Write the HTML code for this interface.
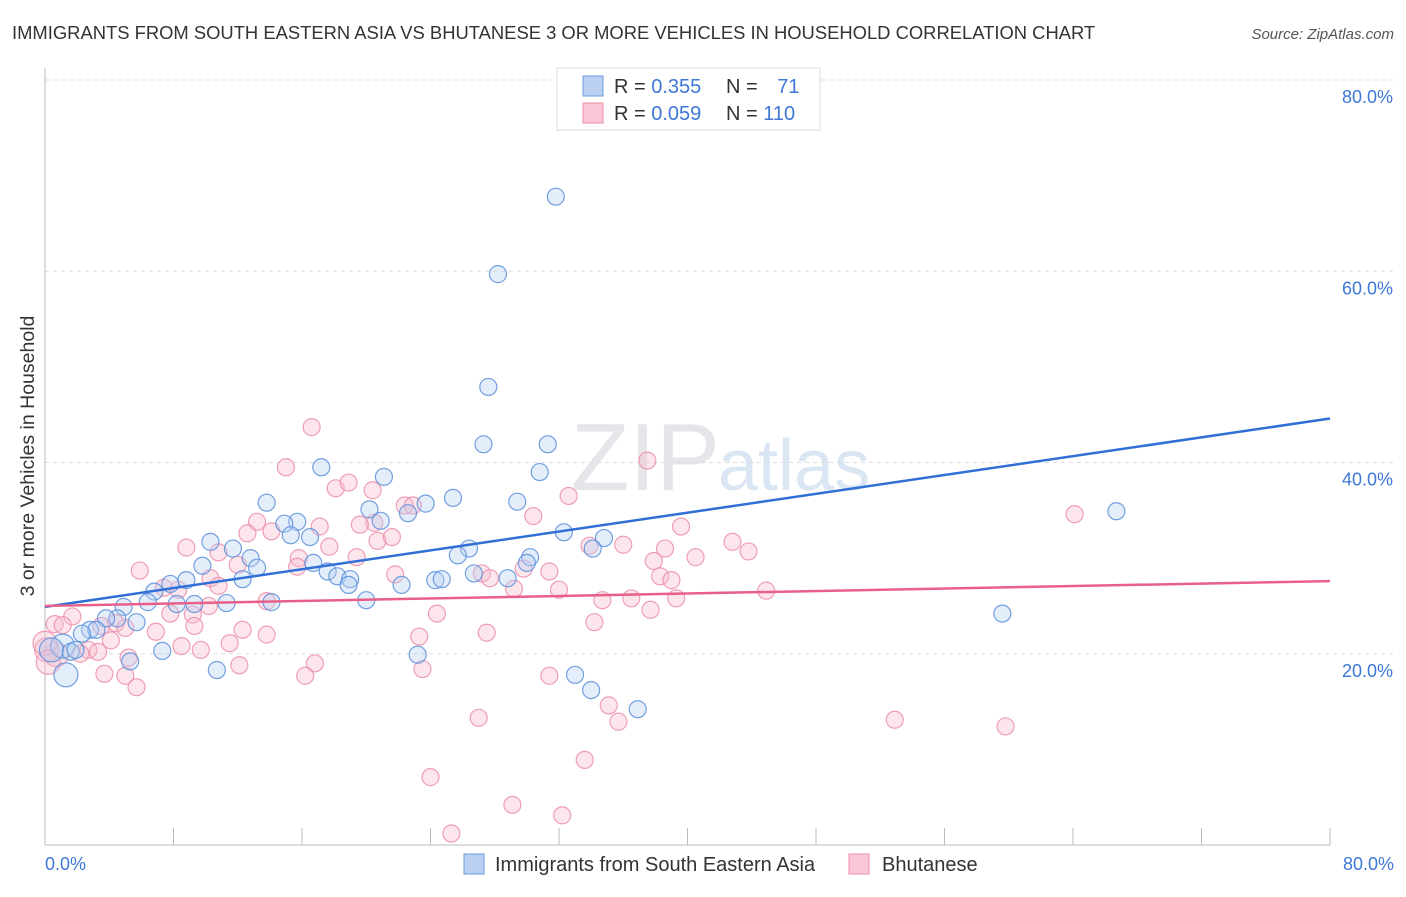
<!DOCTYPE html>
<html><head><meta charset="utf-8"><style>
body{margin:0;background:#fff;font-family:"Liberation Sans",sans-serif}
svg text{font-family:"Liberation Sans",sans-serif}
</style></head><body>
<svg id="chart" width="1406" height="892">
<text x="12" y="39" font-size="18.4" fill="#333">IMMIGRANTS FROM SOUTH EASTERN ASIA VS BHUTANESE 3 OR MORE VEHICLES IN HOUSEHOLD CORRELATION CHART</text>
<text x="1394" y="39" font-size="15" fill="#555" font-style="italic" text-anchor="end">Source: ZipAtlas.com</text>
<text x="720" y="490" font-size="96" fill="#e6e6ea" text-anchor="end" font-family="Liberation Serif">ZIP</text>
<text x="718" y="490" font-size="72" fill="#dbe6f4">atlas</text>
<text transform="translate(34,456) rotate(-90)" font-size="19.5" fill="#333" text-anchor="middle">3 or more Vehicles in Household</text>
<g id="grid"></g><g id="axes"></g><g id="pts"></g><g id="trend"></g>
<g>
<rect x="557" y="68" width="263" height="62" fill="#fff" stroke="#ddd"/>
<rect x="583" y="76" width="20" height="20" fill="#b9d0f2" stroke="#6d9be0"/>
<rect x="583" y="103" width="20" height="20" fill="#f8c6d4" stroke="#ec8eaa"/>
<text x="614" y="93" font-size="20" fill="#333">R = <tspan fill="#3d78d8">0.355</tspan></text>
<text x="726" y="93" font-size="20" fill="#333">N = <tspan fill="#3d78d8" dx="14">71</tspan></text>
<text x="614" y="120" font-size="20" fill="#333">R = <tspan fill="#3d78d8">0.059</tspan></text>
<text x="726" y="120" font-size="20" fill="#333">N = <tspan fill="#3d78d8">110</tspan></text>
</g>
<g>
<rect x="464" y="854" width="20" height="20" fill="#b9d0f2" stroke="#6d9be0"/>
<text x="495" y="871" font-size="20" fill="#333">Immigrants from South Eastern Asia</text>
<rect x="849" y="854" width="20" height="20" fill="#f8c6d4" stroke="#ec8eaa"/>
<text x="882" y="871" font-size="20" fill="#333">Bhutanese</text>
</g>
</svg>
<script>
const yTicks=[20,40,60,80];
const yTickLabels=["20.0%","40.0%","60.0%","80.0%"];
const xEndLabels=["0.0%","80.0%"];
const blueX=[31.8,28.2,27.6,27.3,31.3,17.2,21.1,30.8,13.8,23.7,25.4,29.4,20.2,22.6,15.7,20.9,14.9,15.3,32.3,10.3,16.5,11.7,34.8,12.8,26.4,25.7,30.2,34.1,9.8,13.2,16.7,30.0,12.3,17.6,26.7,18.2,19.0,18.9,28.8,8.8,7.8,24.3,24.7,22.2,6.8,6.4,8.2,9.3,11.3,14.1,20.0,4.9,4.5,3.8,5.7,2.8,3.2,2.3,1.1,0.4,1.6,1.9,7.3,5.3,10.7,23.2,1.3,33.0,34.0,36.9,59.6,66.7];
const blueY=[67.8,59.7,47.9,41.9,41.9,39.5,38.5,39.0,35.8,35.7,36.3,35.9,35.1,34.7,33.8,33.9,33.6,32.4,32.7,31.7,32.2,31.0,32.1,30.0,31.0,30.3,30.1,31.0,29.2,29.0,29.5,29.5,27.8,28.6,28.4,28.1,27.8,27.2,27.9,27.7,27.3,27.7,27.8,27.2,26.5,25.4,25.2,25.2,25.3,25.4,25.6,24.9,23.7,23.7,23.3,22.5,22.5,22.1,20.8,20.4,20.2,20.4,20.3,19.2,18.3,19.9,17.8,17.8,16.2,14.2,24.2,34.9];
const pinkX=[16.6,37.5,15.0,18.1,18.9,32.6,20.4,22.4,22.9,30.4,20.5,13.2,19.6,17.1,12.6,14.1,20.7,21.6,8.8,33.9,36.0,10.8,19.4,15.8,38.6,40.5,42.8,43.8,39.6,64.1,17.7,12.0,15.7,37.9,10.3,10.8,5.9,21.8,27.2,27.7,31.4,38.3,39.0,29.8,7.4,8.3,29.2,32.0,34.7,36.5,39.3,13.8,10.2,44.9,7.8,9.2,24.4,37.7,34.2,4.4,3.5,1.7,0.6,1.1,5.0,6.9,9.3,12.3,13.8,27.5,23.3,8.5,9.7,11.5,2.7,3.3,4.1,0.7,0.1,2.2,5.2,12.1,16.8,3.7,5.0,5.7,16.2,23.5,31.4,35.1,27.0,35.7,52.9,59.8,33.6,24.0,29.1,25.3,32.2,0,0.2];
const pinkY=[43.7,40.2,39.5,37.3,37.9,36.5,37.1,35.5,35.5,34.4,33.7,33.8,33.5,33.3,32.6,32.8,31.8,32.2,31.1,31.3,31.4,30.6,30.1,30.0,31.0,30.1,31.7,30.7,33.3,34.6,31.2,29.3,29.1,29.7,27.9,27.1,28.7,28.3,28.4,27.9,28.6,28.1,27.7,28.9,26.9,26.7,26.8,26.7,25.6,25.8,25.8,25.5,25.0,26.6,24.2,24.1,24.2,24.6,23.3,23.2,22.9,23.9,23.1,23.0,22.7,22.3,22.9,22.5,22.0,22.2,21.8,20.8,20.4,21.1,20.4,20.2,21.4,19.9,20.4,20.0,19.6,18.8,19.0,17.9,17.7,16.5,17.7,18.4,17.7,14.6,13.3,12.9,13.1,12.4,8.9,7.1,4.2,1.2,3.1,21.1,19.1];
const blueTrend=[24.9,44.6];
const pinkTrend=[25.0,27.6];
const X=v=>45+v/80*1285, Y=v=>845-v/80*765;
const NS="http://www.w3.org/2000/svg";
function mk(tag,attrs,parent){const e=document.createElementNS(NS,tag);for(const k in attrs)e.setAttribute(k,attrs[k]);document.getElementById(parent).appendChild(e);return e;}
yTicks.forEach((t,i)=>{
 const l=mk('line',{x1:45,x2:1394,y1:Y(t),y2:Y(t),stroke:'#ddd','stroke-dasharray':'4,4'},'grid');
 
 
 const tx=mk('text',{x:1393,y:Y(t)+23,'font-size':18,fill:'#3d78d8','text-anchor':'end'},'grid');
 tx.textContent=yTickLabels[i];
 
 
});
const ax=mk('line',{x1:45,x2:45,y1:68,y2:845,stroke:'#bbb'},'axes');


const bx=mk('line',{x1:45,x2:1330,y1:845,y2:845,stroke:'#bbb'},'axes');


for(let v=0;v<=80;v+=8){const t=mk('line',{x1:X(v),x2:X(v),y1:828,y2:845,stroke:'#bbb'},'axes');
 
 }
[[0,'start',45],[80,'end',1394]].forEach((d,i)=>{const t=mk('text',{x:d[2],y:870,'font-size':18,fill:'#3d78d8','text-anchor':d[1]},'axes');t.textContent=xEndLabels[i];
 
 });
function pts(xs,ys,fill,stroke,name){xs.forEach((x,i)=>{const big=(x<1.5&&ys[i]>19&&ys[i]<22.5)||(x<2&&ys[i]<18.5);
 const c=mk('circle',{cx:X(x),cy:Y(ys[i]),r:big?12:8.5,fill:fill,'fill-opacity':0.38,stroke:stroke,'stroke-width':1.2,'stroke-opacity':0.85},'pts');
 
 });}
pts(pinkX,pinkY,'#f6bccd','#ec8eaa','bhutanese-point');
pts(blueX,blueY,'#b9d0f2','#5b8fdc','sea-immigrant-point');
const bl=mk('line',{x1:X(0),y1:Y(blueTrend[0]),x2:X(80),y2:Y(blueTrend[1]),stroke:'#2f6fd6','stroke-width':2.5},'trend');


const pl=mk('line',{x1:X(0),y1:Y(pinkTrend[0]),x2:X(80),y2:Y(pinkTrend[1]),stroke:'#e8608a','stroke-width':2.5},'trend');


</script>
</body></html>
